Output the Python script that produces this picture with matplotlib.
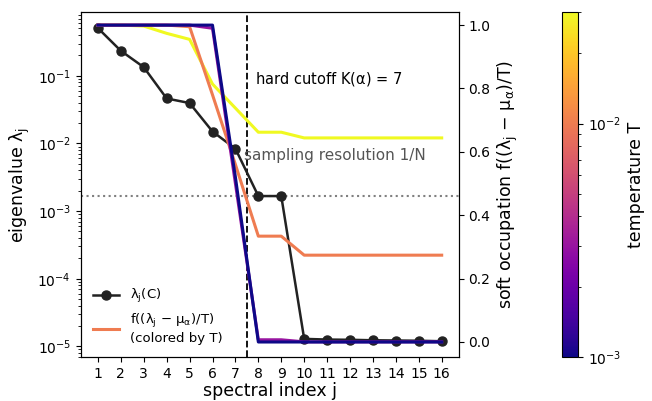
import numpy as np
import matplotlib
matplotlib.use("Agg")
import matplotlib.pyplot as plt
from matplotlib.colors import LogNorm
from matplotlib.cm import ScalarMappable
from matplotlib.lines import Line2D

plt.rcParams['font.family'] = ['DejaVu Sans']
plt.rcParams['mathtext.default'] = 'regular'

# ---- data ----
j = np.arange(1, 17)
eigenvalues = [0.507, 0.234, 0.134, 0.0462, 0.0395, 0.0150, 0.00835,
               1/600, 1/600, 1.29e-5, 1.26e-5, 1.25e-5, 1.23e-5, 1.22e-5,
               1.21e-5, 1.19e-5]
temperatures = [3e-2, 1e-2, 3e-3, 1e-3]
occ_T3e2 = [1.0, 1.0, 0.997, 0.974, 0.955, 0.814, 0.738, 0.662, 0.662,
            0.644, 0.644, 0.644, 0.644, 0.644, 0.644, 0.644]
occ_T1e2 = [1.0, 1.0, 1.0, 1.0, 0.995, 0.78, 0.56, 0.334, 0.334,
            0.274, 0.274, 0.274, 0.274, 0.274, 0.274, 0.274]
occ_T3e3 = [1.0, 1.0, 1.0, 1.0, 1.0, 0.99, 0.50, 0.007, 0.007,
            0.0005, 0.0005, 0.0005, 0.0005, 0.0005, 0.0005, 0.0005]
occ_T1e3 = [1.0, 1.0, 1.0, 1.0, 1.0, 1.0, 0.52, 0.0, 0.0,
            0.0, 0.0, 0.0, 0.0, 0.0, 0.0, 0.0]
occupations = [occ_T3e2, occ_T1e2, occ_T3e3, occ_T1e3]
cutoff_K = 7
N_samples = 600
T_min, T_max = 1e-3, 3e-2

fig = plt.figure(figsize=(6.52, 4.01), dpi=100)
ax = fig.add_axes([0.1238, 0.110, 0.580, 0.859])
cax = fig.add_axes([0.8615, 0.110, 0.0255, 0.859])

cmap = plt.get_cmap('plasma')
norm = LogNorm(vmin=T_min, vmax=T_max)

ax.semilogy(j, eigenvalues, '-o', color='#222222', lw=1.8, ms=6.5,
            label=r'$\lambda_j$(C)', zorder=3)
ax.axhline(1 / N_samples, color='gray', ls=':', lw=1.5)
ax.axvline(cutoff_K + 0.5, color='k', ls='--', lw=1.3)
ax.set_xticks(j)
ax.set_xlabel('spectral index j', fontsize=12.5, labelpad=1)
ax.set_ylabel(r'eigenvalue $\lambda_j$', fontsize=12.5)
ax.tick_params(labelsize=10)

ax.text(0.461, 0.806, r'hard cutoff K($\alpha$) = 7', transform=ax.transAxes,
        fontsize=10.5, va='center', ha='left')
ax.text(0.432, 0.586, 'sampling resolution 1/N', transform=ax.transAxes,
        fontsize=11, va='center', ha='left', color='#555555')

ax2 = ax.twinx()
for T, occ in zip(temperatures, occupations):
    ax2.plot(j, occ, color=cmap(norm(T)), lw=2.2)
ax2.set_ylim(-0.047, 1.04)
ax2.set_ylabel(r'soft occupation f(($\lambda_j$ − $\mu_\alpha$)/T)', fontsize=12.5)
ax2.tick_params(labelsize=10)

handles = [Line2D([], [], color='#222222', marker='o', lw=1.8, ms=6.5),
           Line2D([], [], color=cmap(norm(1e-2)), lw=2.2)]
labels = [r'$\lambda_j$(C)', 'f(($\\lambda_j$ − $\\mu_\\alpha$)/T)\n(colored by T)']
ax.legend(handles, labels, loc='lower left', frameon=False, fontsize=9.5)

sm = ScalarMappable(norm=norm, cmap=cmap)
cb = fig.colorbar(sm, cax=cax)
cb.set_label('temperature T', fontsize=12.5)
cb.ax.tick_params(labelsize=10)

fig.savefig('out.png', dpi=100)
